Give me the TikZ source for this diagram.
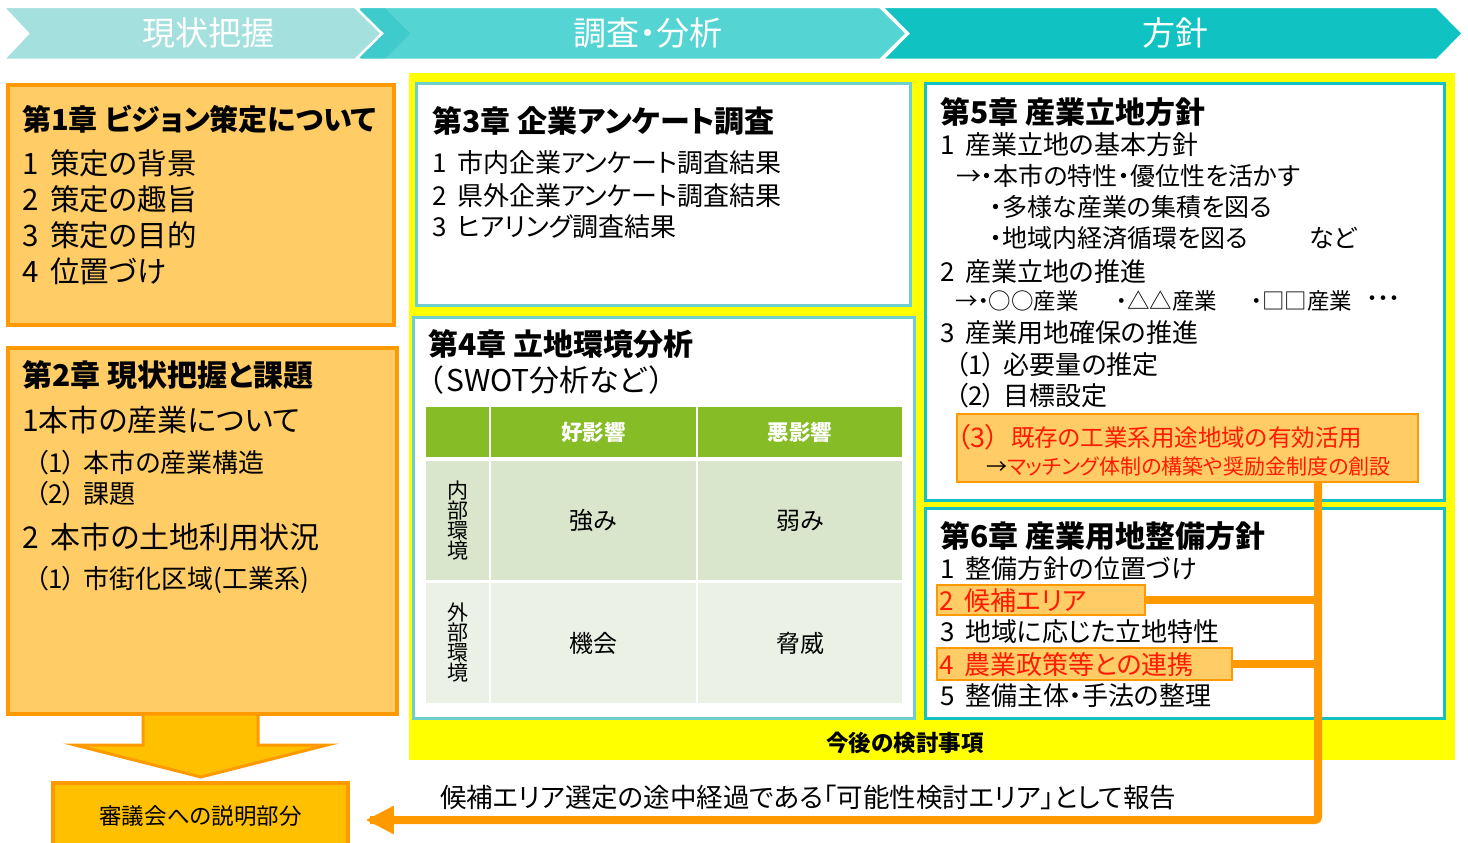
\documentclass[tikz,border=0pt]{standalone}
\usepackage{fontspec}
\setmainfont{Noto Sans CJK JP}[RawFeature=+palt]
\usetikzlibrary{arrows.meta}
\definecolor{chA}{HTML}{A4E0DE}
\definecolor{chB}{HTML}{55D4D4}
\definecolor{chBd}{HTML}{3FCBCB}
\definecolor{chC}{HTML}{10C2C2}
\definecolor{ylw}{HTML}{FFFF00}
\definecolor{lor}{HTML}{FFCC66}
\definecolor{orn}{HTML}{FF9900}
\definecolor{gold}{HTML}{FFC000}
\definecolor{tealA}{HTML}{6DD0CF}
\definecolor{tealB}{HTML}{15C0C0}
\definecolor{grn}{HTML}{86BC25}
\definecolor{cellA}{HTML}{D9E6CB}
\definecolor{cellB}{HTML}{EBF2E5}
\definecolor{redt}{HTML}{FF1A00}
\newcommand\FS[1]{\fontsize{#1}{#1}\selectfont}
\newcommand\SP{\hspace{0.4em}}
\newcommand\TS{\hspace{0.25em}}
\newcommand\PS{\hspace{0.3em}}
\begin{document}
\begin{tikzpicture}[x=1pt,y=-1pt,
  chev/.style={draw=white,line width=2.5pt,line join=miter},
  hdr/.style={inner sep=0pt,text=white,font=\FS{33}},
  obox/.style={draw=orn,fill=lor,line width=3.5pt,inner sep=0pt},
  tbox/.style={draw=tealA,fill=white,line width=3pt,inner sep=0pt},
  sbox/.style={draw=tealB,fill=white,line width=3pt,inner sep=0pt},
  hbox/.style={draw=orn,fill=lor,line width=2pt,inner sep=0pt},
  cell/.style={inner sep=0pt,font=\FS{24}},
  tt/.style={anchor=west,inner sep=0pt},
  ttl/.style={tt,font=\FS{30}\bfseries},
  big/.style={tt,font=\FS{30}},
  mid/.style={tt,font=\FS{26}},
  sml/.style={tt,font=\FS{25}},
  conn/.style={draw=orn,line width=8pt,rounded corners=3pt}]
\useasboundingbox (0,0) rectangle (1468,843);
% header chevrons
\path[fill=chC,chev] (882,7) -- (1437,7) -- (1463,33.5) -- (1437,60) -- (882,60) -- (908,33.5) -- cycle;
\path[fill=chB,chev] (358,7) -- (880,7) -- (907,33.5) -- (880,60) -- (358,60) -- (384,33.5) -- cycle;
\path[fill=chBd] (360,8.5) -- (385,8.5) -- (410,33.5) -- (385,58.5) -- (360,58.5) -- cycle;
\path[fill=chA,chev] (3,7) -- (355,7) -- (382,33.5) -- (355,60) -- (3,60) -- (28,33.5) -- cycle;
\node[hdr] (h1) at (208,33) {現状把握};
\node[hdr] (h2) at (648,33) {調査・分析};
\node[hdr] (h3) at (1175,33) {方針};
% yellow area
\path[fill=ylw] (409,73) rectangle (1455,760);
\node[inner sep=0pt,font=\FS{22.5}\bfseries] (fut) at (905,743) {今後の検討事項};
% chapter 1
\node[obox,minimum width=386pt,minimum height=240pt] (c1) at (201,205) {};
\node[ttl,font=\FS{29}\bfseries] (c1t) at (22,119) {第1章\TS ビジョン策定について};
\node[big,font=\FS{29.5}] (c1a) at (22,163) {1\SP 策定の背景};
\node[big,font=\FS{29.5}] (c1b) at (22,199) {2\SP 策定の趣旨};
\node[big,font=\FS{29.5}] (c1c) at (22,235) {3\SP 策定の目的};
\node[big,font=\FS{29.5}] (c1d) at (22,271) {4\SP 位置づけ};
% chapter 2
\node[obox,minimum width=389pt,minimum height=366pt] (c2) at (202.5,531) {};
\node[ttl] (c2t) at (22,375) {第2章\TS 現状把握と課題};
\node[big] (c2a) at (22,420) {1本市の産業について};
\node[mid] (c2b) at (35,463) {（1）\PS 本市の産業構造};
\node[mid] (c2c) at (35,494) {（2）\PS 課題};
\node[big] (c2d) at (22,537) {2\SP 本市の土地利用状況};
\node[mid] (c2e) at (35,580) {（1）\PS 市街化区域(工業系)};
% down arrow and report box
\path[fill=gold,draw=orn,line width=3pt,line join=miter] (143,714) -- (258,714) -- (258,745) -- (327,745) -- (201,777) -- (75,745) -- (143,745) -- cycle;
\node[draw=orn,fill=gold,line width=3.5pt,minimum width=295pt,minimum height=74pt,inner sep=0pt] (rep) at (200.5,820) {};
\node[inner sep=0pt,font=\FS{22.5}] (rept) at (200.5,816) {審議会への説明部分};
% chapter 3
\node[tbox,minimum width=494pt,minimum height=221pt] (c3) at (663,194.5) {};
\node[ttl] (c3t) at (432,121) {第3章\TS 企業アンケート調査};
\node[mid] (c3a) at (432,163) {1\SP 市内企業アンケート調査結果};
\node[mid] (c3b) at (432,196) {2\SP 県外企業アンケート調査結果};
\node[mid] (c3c) at (432,227) {3\SP ヒアリング調査結果};
% chapter 4
\node[tbox,minimum width=501pt,minimum height=401pt] (c4) at (663.5,517.5) {};
\node[ttl] (c4t) at (428,344) {第4章\TS 立地環境分析};
\node[big] (c4a) at (428,380) {（\hspace{0.1em}SWOT分析など\hspace{0.1em}）};
\node[cell,fill=grn,minimum width=63pt,minimum height=50pt] (g0) at (457.5,432) {};
\node[cell,fill=grn,minimum width=205pt,minimum height=50pt,text=white,font=\FS{21.5}\bfseries] (g1) at (593.5,432) {好影響};
\node[cell,fill=grn,minimum width=204pt,minimum height=50pt,text=white,font=\FS{21.5}\bfseries] (g2) at (800,432) {悪影響};
\node[cell,fill=cellA,minimum width=63pt,minimum height=119pt,align=center,font=\FS{21}] (r1) at (457.5,520.5) {内\\[-1pt]部\\[-1pt]環\\[-1pt]境};
\node[cell,fill=cellA,minimum width=205pt,minimum height=119pt] (s) at (593.5,520.5) {強み};
\node[cell,fill=cellA,minimum width=204pt,minimum height=119pt] (w) at (800,520.5) {弱み};
\node[cell,fill=cellB,minimum width=63pt,minimum height=120pt,align=center,font=\FS{21}] (r2) at (457.5,643) {外\\[-1pt]部\\[-1pt]環\\[-1pt]境};
\node[cell,fill=cellB,minimum width=205pt,minimum height=120pt] (o) at (593.5,643) {機会};
\node[cell,fill=cellB,minimum width=204pt,minimum height=120pt] (th) at (800,643) {脅威};
% chapter 5
\node[sbox,minimum width=519pt,minimum height=416pt] (c5) at (1184.5,292) {};
\node[ttl] (c5t) at (940,112) {第5章\TS 産業立地方針};
\node[mid] (c5a) at (940,145) {1\SP 産業立地の基本方針};
\node[sml] (c5b) at (956,176) {→・本市の特性・優位性を活かす};
\node[sml] (c5c) at (990,207) {・多様な産業の集積を図る};
\node[sml] (c5d) at (990,238) {・地域内経済循環を図る};
\node[sml] (c5e) at (1309,238) {など};
\node[mid] (c5f) at (940,272) {2\SP 産業立地の推進};
\node[tt,font=\FS{22.5}] (c5g) at (955,301) {→・○○産業};
\node[tt,font=\FS{22.5}] (c5h) at (1116,301) {・△△産業};
\node[tt,font=\FS{22.5}] (c5i) at (1251,301) {・□□産業};
\node[tt,font=\FS{22}] (c5j) at (1367,301) {・・・};
\node[mid] (c5k) at (940,333) {3\SP 産業用地確保の推進};
\node[mid] (c5l) at (955,365) {（1）\PS 必要量の推定};
\node[mid] (c5m) at (955,396) {（2）\PS 目標設定};
\node[hbox,minimum width=461pt,minimum height=68pt] (b53) at (1187.5,448) {};
\node[tt,text=redt,font=\FS{27}] (b53n) at (957,437) {（3）};
\node[tt,text=redt,font=\FS{23.5}] (b53a) at (1011,438) {既存の工業系用途地域の有効活用};
\node[tt,font=\FS{21}] (b53b) at (986,467) {→\textcolor{redt}{マッチング体制の構築や奨励金制度の創設}};
% chapter 6
\node[sbox,minimum width=519pt,minimum height=210pt] (c6) at (1184.5,613) {};
\node[ttl] (c6t) at (940,536) {第6章\TS 産業用地整備方針};
\node[mid] (c6a) at (940,569) {1\SP 整備方針の位置づけ};
\node[hbox,minimum width=208pt,minimum height=30pt] (b62) at (1041,600) {};
\node[mid,text=redt] (c6b) at (939,601) {2\SP 候補エリア};
\node[mid] (c6c) at (940,632) {3\SP 地域に応じた立地特性};
\node[hbox,minimum width=295pt,minimum height=32pt] (b64) at (1084.5,664) {};
\node[mid,text=redt] (c6d) at (939,665) {4\SP 農業政策等との連携};
\node[mid] (c6e) at (940,696) {5\SP 整備主体・手法の整理};
% connectors
\coordinate (jx) at (1318,820);
\draw[conn] (b53.south -| jx) -- (jx) -- ([xshift=20pt]rep.east);
\draw[orn,fill=orn] ([xshift=17pt]rep.east) -- ++(27,-14) -- ++(0,28) -- cycle;
\draw[conn,rounded corners=0pt] (b62.east) -- (b62.east -| jx);
\draw[conn,rounded corners=0pt] (b64.east) -- (b64.east -| jx);
\node[tt,font=\FS{26.5}] (note) at (440,797) {候補エリア選定の途中経過である「可能性検討エリア」として報告};
\end{tikzpicture}
\end{document}
